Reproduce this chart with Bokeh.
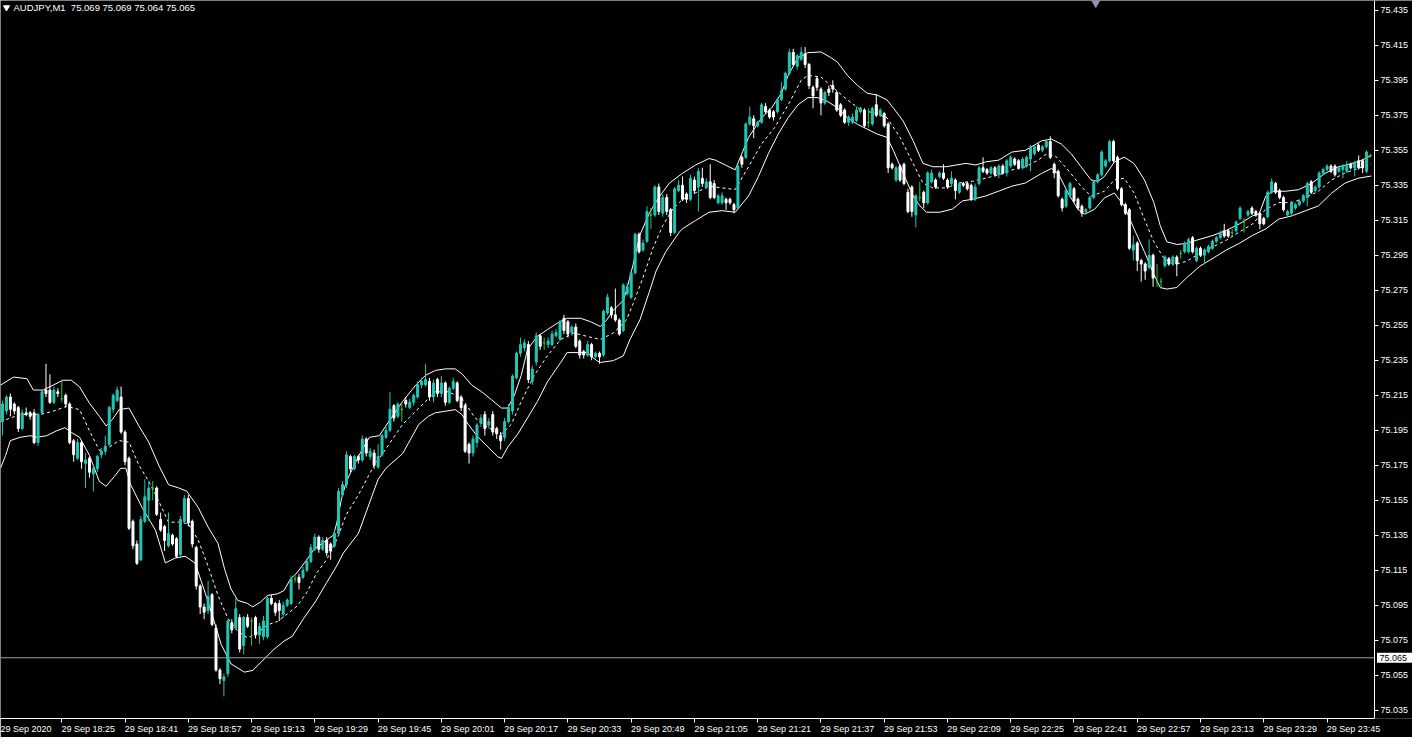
from bokeh.plotting import figure
from bokeh.models import (Range1d, FixedTicker, PrintfTickFormatter, Label, ColumnDataSource)
from bokeh.core.properties import value
from bokeh.embed import file_html
from bokeh.resources import INLINE

# ---------------- data (prices in points: 75.000 + v/1000) ----------------
symbol = "AUDJPY,M1"
header_ohlc = ["75.069", "75.069", "75.064", "75.065"]
bid_price = 75.065
first_bar_time = "18:10"

open_pts = [
    200, 206, 214, 210, 208, 196, 205, 205, 205, 188,
    205, 218, 218, 211, 217, 213, 215, 210, 189, 179,
    188, 176, 179, 170, 173, 181, 183, 187, 207, 212,
    214, 194, 179, 143, 130, 121, 143, 155, 162, 162,
    144, 140, 129, 135, 133, 124, 143, 156, 143, 128,
    106, 94, 92, 101, 82, 58, 52, 56, 85, 82,
    88, 72, 88, 86, 88, 78, 77, 77, 99, 96,
    96, 90, 95, 96, 110, 111, 111, 115, 120, 127,
    134, 127, 132, 130, 129, 136, 158, 164, 180, 173,
    180, 178, 190, 180, 182, 174, 181, 191, 195, 209,
    203, 207, 212, 208, 211, 214, 221, 221, 223, 214,
    224, 216, 222, 211, 219, 222, 214, 209, 187, 182,
    188, 199, 204, 198, 204, 196, 192, 191, 200, 206,
    225, 239, 242, 244, 223, 234, 249, 245, 244, 244,
    249, 247, 259, 257, 251, 254, 246, 240, 238, 244,
    237, 239, 238, 262, 265, 261, 258, 252, 273, 271,
    285, 307, 298, 303, 318, 318, 334, 319, 328, 321,
    308, 332, 335, 330, 327, 338, 334, 339, 334, 337,
    336, 325, 325, 327, 327, 324, 322, 351, 351, 370,
    373, 369, 371, 380, 378, 377, 377, 384, 390, 399,
    411, 403, 407, 410, 404, 391, 396, 390, 382, 390,
    392, 388, 381, 378, 371, 371, 372, 377, 378, 371,
    370, 381, 375, 376, 370, 347, 338, 346, 347, 331,
    334, 318, 328, 331, 325, 337, 338, 340, 342, 338,
    336, 338, 331, 336, 336, 335, 327, 336, 345, 344,
    342, 345, 341, 346, 342, 346, 350, 349, 345, 346,
    350, 353, 358, 355, 357, 360, 347, 343, 327, 323,
    329, 333, 327, 323, 320, 322, 328, 337, 341, 346,
    349, 360, 351, 333, 324, 321, 298, 302, 292, 290,
    288, 295, 280, 280, 289, 293, 290, 294, 296, 297,
    297, 305, 292, 299, 295, 297, 299, 303, 305, 309,
    309, 308, 309, 316, 314, 318, 322, 320, 319, 316,
    317, 331, 336, 332, 328, 318, 319, 322, 324, 326,
    328, 337, 332, 334, 342, 344, 346, 346, 343, 344,
    343, 347, 345, 349, 349, 343, 352,
]
high_pts = [
    212, 215, 216, 211, 209, 207, 208, 206, 207, 205,
    218, 233, 227, 220, 219, 224, 216, 211, 190, 190,
    189, 182, 180, 175, 181, 185, 192, 209, 216, 220,
    220, 195, 180, 144, 132, 146, 167, 166, 166, 163,
    148, 141, 148, 136, 134, 146, 158, 158, 144, 129,
    107, 96, 109, 102, 84, 59, 56, 87, 87, 99,
    90, 89, 90, 88, 89, 85, 89, 100, 101, 97,
    98, 97, 99, 112, 112, 113, 117, 122, 130, 136,
    135, 134, 134, 131, 138, 162, 166, 183, 181, 181,
    181, 192, 191, 185, 184, 187, 193, 197, 217, 210,
    211, 210, 214, 213, 216, 223, 225, 233, 225, 224,
    225, 226, 223, 220, 225, 223, 215, 210, 188, 192,
    199, 204, 206, 202, 206, 197, 194, 202, 210, 227,
    240, 248, 247, 246, 232, 251, 250, 248, 248, 252,
    253, 258, 261, 258, 255, 256, 247, 241, 246, 245,
    240, 240, 264, 273, 266, 276, 259, 279, 279, 286,
    308, 308, 304, 323, 322, 335, 336, 330, 330, 322,
    334, 338, 340, 331, 341, 340, 345, 345, 339, 347,
    338, 330, 331, 328, 328, 325, 347, 352, 371, 380,
    375, 372, 382, 382, 379, 378, 385, 394, 400, 413,
    413, 410, 414, 414, 405, 392, 397, 391, 389, 392,
    395, 389, 382, 379, 375, 376, 380, 380, 379, 379,
    380, 387, 379, 377, 371, 348, 346, 347, 348, 333,
    335, 330, 337, 332, 343, 344, 339, 343, 347, 339,
    343, 339, 337, 337, 337, 336, 336, 346, 351, 345,
    346, 346, 347, 347, 350, 352, 351, 350, 351, 352,
    358, 358, 359, 358, 361, 363, 348, 344, 328, 333,
    337, 334, 328, 324, 322, 329, 338, 342, 355, 350,
    361, 361, 352, 334, 325, 322, 306, 303, 293, 291,
    304, 296, 290, 282, 295, 294, 295, 295, 298, 303,
    305, 306, 300, 300, 299, 301, 304, 306, 309, 313,
    310, 310, 315, 323, 316, 321, 323, 321, 320, 317,
    332, 339, 337, 333, 329, 321, 326, 325, 327, 330,
    337, 338, 335, 343, 345, 347, 347, 347, 346, 347,
    349, 348, 349, 352, 350, 355, 353,
]
low_pts = [
    192, 204, 203, 204, 194, 195, 203, 201, 187, 186,
    204, 214, 210, 210, 214, 211, 208, 187, 177, 178,
    173, 162, 168, 160, 171, 179, 181, 186, 205, 211,
    193, 175, 138, 127, 118, 120, 142, 143, 155, 146,
    137, 126, 128, 129, 122, 122, 142, 140, 128, 104,
    90, 87, 90, 83, 57, 50, 43, 54, 79, 81,
    68, 67, 82, 72, 76, 73, 75, 76, 95, 89,
    86, 88, 94, 95, 108, 104, 110, 114, 119, 126,
    125, 126, 123, 121, 128, 135, 157, 162, 171, 172,
    176, 177, 180, 178, 173, 173, 180, 190, 194, 200,
    202, 200, 208, 207, 209, 213, 219, 220, 212, 211,
    214, 214, 209, 210, 218, 211, 206, 182, 176, 180,
    185, 197, 192, 196, 192, 190, 184, 189, 199, 204,
    224, 237, 240, 222, 221, 232, 241, 241, 242, 243,
    248, 246, 250, 248, 249, 242, 236, 236, 237, 235,
    236, 233, 237, 261, 259, 257, 249, 251, 272, 270,
    284, 296, 297, 302, 310, 317, 318, 317, 318, 306,
    307, 331, 326, 325, 326, 330, 320, 334, 333, 327,
    327, 324, 324, 321, 324, 319, 321, 345, 350, 369,
    362, 368, 370, 376, 373, 372, 376, 383, 389, 398,
    403, 401, 406, 402, 390, 379, 389, 375, 381, 386,
    388, 377, 374, 370, 369, 370, 371, 376, 368, 368,
    369, 374, 374, 368, 342, 344, 337, 337, 335, 319,
    317, 311, 326, 322, 324, 336, 333, 339, 338, 333,
    334, 327, 330, 334, 332, 326, 326, 335, 342, 341,
    341, 340, 339, 341, 340, 345, 346, 344, 344, 345,
    343, 352, 354, 354, 356, 350, 339, 328, 320, 322,
    328, 325, 321, 317, 319, 321, 327, 336, 340, 345,
    348, 348, 332, 323, 318, 298, 292, 286, 280, 281,
    287, 277, 277, 276, 288, 289, 289, 283, 293, 296,
    296, 296, 291, 294, 290, 296, 298, 302, 304, 305,
    305, 306, 308, 315, 308, 317, 318, 317, 310, 312,
    316, 330, 330, 327, 320, 317, 318, 321, 323, 325,
    323, 330, 331, 333, 341, 343, 342, 340, 342, 339,
    342, 344, 340, 344, 342, 342, 351,
]
close_pts = [
    210, 214, 207, 206, 196, 205, 204, 203, 188, 204,
    217, 216, 211, 218, 216, 213, 210, 188, 181, 188,
    177, 178, 171, 173, 180, 183, 186, 208, 215, 218,
    194, 177, 139, 129, 119, 144, 157, 162, 162, 147,
    138, 132, 136, 130, 123, 144, 156, 142, 130, 106,
    94, 91, 100, 84, 58, 53, 54, 86, 81, 93,
    70, 88, 83, 86, 78, 83, 86, 99, 96, 91,
    92, 95, 98, 110, 110, 108, 115, 120, 128, 134,
    127, 132, 125, 126, 136, 160, 164, 181, 173, 180,
    178, 190, 182, 183, 175, 180, 192, 195, 207, 202,
    210, 207, 210, 211, 215, 221, 223, 224, 214, 222,
    216, 222, 211, 219, 223, 212, 208, 183, 182, 190,
    198, 202, 196, 200, 194, 193, 189, 200, 208, 226,
    239, 244, 245, 224, 230, 249, 243, 245, 246, 250,
    251, 257, 252, 250, 254, 243, 238, 238, 244, 237,
    239, 237, 263, 271, 261, 258, 250, 278, 277, 285,
    307, 297, 302, 320, 318, 334, 320, 328, 320, 308,
    333, 335, 327, 327, 339, 332, 343, 336, 337, 328,
    328, 329, 329, 325, 325, 321, 346, 347, 370, 374,
    369, 371, 381, 377, 374, 374, 384, 389, 399, 411,
    404, 409, 411, 404, 392, 386, 391, 382, 388, 388,
    390, 378, 375, 371, 374, 374, 378, 379, 369, 371,
    379, 375, 378, 369, 345, 345, 345, 338, 336, 320,
    320, 329, 328, 325, 342, 342, 334, 342, 339, 334,
    339, 332, 336, 335, 333, 327, 334, 345, 343, 342,
    345, 341, 346, 342, 349, 351, 347, 345, 350, 351,
    357, 357, 355, 357, 360, 351, 342, 329, 322, 332,
    336, 326, 322, 319, 321, 328, 337, 341, 354, 349,
    360, 349, 333, 324, 319, 299, 301, 292, 290, 286,
    295, 282, 280, 280, 294, 290, 294, 290, 296, 302,
    304, 297, 299, 295, 298, 300, 303, 305, 308, 306,
    306, 308, 314, 322, 314, 320, 319, 318, 313, 313,
    331, 337, 331, 328, 321, 320, 325, 324, 326, 329,
    336, 331, 334, 342, 344, 346, 343, 341, 345, 346,
    346, 345, 348, 345, 345, 354, 352,
]

# Bollinger bands: (bar position, points)
upper_bars = [-0.5, 2.8, 6.2, 7.8, 10.3, 12.8, 15.3, 17.4, 19.5, 22, 24.5, 26.2, 27.8,
              29.5, 32, 34.5, 37, 39.5, 42, 44.5, 46.6, 49.5, 52, 54.5, 56.2, 57.8, 59.5,
              62, 63.3, 65.3, 67, 69.5, 71.2, 72.8, 74.5, 77, 78.7, 82, 83.7, 84.5, 85.8,
              87, 90, 92.8, 95.3, 97.8, 101.2, 104.5, 107, 109.5, 112, 114.5, 116.2,
              118.7, 121.2, 123.7, 126.2, 127.8, 129.5, 131.2, 132.8, 135.3, 137.8,
              140.3, 142.8, 146.2, 148.7, 151.2, 152.8, 154.5, 157, 157.8, 159.5, 161.2,
              163.7, 166.2, 168.7, 172, 175.3, 178.7, 180.3, 182.8, 185.3, 187, 188.7,
              192, 194.5, 197, 198.7, 201.2, 203.7, 207, 209.5, 211.2, 213.7, 216.2,
              218.7, 221.2, 223.7, 225.3, 227.8, 230.3, 232.8, 235.3, 238.7, 241.2,
              243.7, 246.2, 248.7, 252, 255.3, 258.7, 262.8, 265.3, 267.8, 270.3, 272.8,
              275.3, 277, 278.7, 281.2, 283.7, 286.2, 288.8, 291.2, 292.8, 294.5, 297,
              299.5, 302, 306.2, 309.5, 312.8, 316.2, 317.8, 319.5, 321.2, 324.5, 327.8,
              331.2, 334.5, 337.8, 341.2, 343.7, 346.2]
upper_pts = [220.8, 225.4, 224.5, 218, 218, 220.8, 223.6, 223.6, 219.8, 210.5, 203, 197.5,
             201.2, 206.8, 207.7, 197.5, 188.2, 175.1, 163.9, 162.1, 160.2, 150.9, 139.7,
             130.4, 115.5, 104.3, 97.8, 96, 94.1, 96.9, 100.6, 101.5, 103.4, 109.9, 113.6,
             121.1, 126.7, 132.3, 135.1, 141.6, 156.5, 165.8, 180, 191, 191.9, 200.3,
             211.5, 220.8, 226.4, 229.2, 230.1, 230.1, 227.3, 220.8, 217, 212.4, 207.7,
             207.7, 215.2, 226.4, 241.3, 248.7, 252.5, 256.2, 259, 259, 257.1, 254.3,
             258, 263.6, 269.2, 274.8, 289.7, 306.5, 319.5, 328.8, 336.3, 341.9, 346.6,
             350.3, 349.4, 346.6, 343.8, 353.1, 362.4, 373.6, 379.2, 387.6, 397.8, 408,
             410.8, 411.2, 408, 405.3, 397.8, 392.2, 387.6, 386.6, 383.8, 379.2, 371.7,
             360.5, 347.5, 345.6, 345.6, 346.6, 347.5, 346.6, 348.4, 349.4, 354, 355,
             360.4, 361.4, 358.6, 353, 345.5, 338.1, 337.2, 340, 348.3, 351.1, 347.4,
             338.1, 325.1, 312, 302.7, 301.2, 301.8, 303.6, 306.4, 309.2, 312.9, 317.6,
             318.5, 328.8, 331.6, 331.6, 332.5, 336.2, 341.8, 345.5, 347.4, 349.3, 352]

middle_bars = [-0.5, 4.5, 9.5, 12.8, 16.2, 19.5, 22, 24.5, 27, 29.5, 32, 34.5, 37, 39.5,
               42, 44.5, 47, 49.5, 52, 54.5, 57, 59.5, 62, 64.5, 67, 69.5, 72, 74.5, 77,
               79.5, 82, 84.5, 87, 90, 94, 97, 101.2, 105.3, 109.5, 112.8, 116.2, 119.5,
               122.8, 126.2, 128.7, 131.2, 134.5, 137.8, 141.2, 144.5, 147.8, 151.2,
               154.5, 157.8, 159.5, 162, 164.5, 167, 169.5, 172, 175.3, 178.7, 182,
               185.3, 188.7, 192, 195.3, 198.7, 202, 203.7, 207, 210.3, 213.7, 217,
               220.3, 223.7, 227, 230.3, 232.8, 235.3, 238.7, 242, 245.3, 248.7, 252,
               255.3, 258.7, 262, 263.7, 266.2, 269.5, 272.8, 275.3, 278.7, 281.2,
               283.7, 286.2, 288.8, 291.2, 293.7, 296.2, 299.5, 302.8, 306.2, 309.5,
               312.8, 316.2, 319.5, 322.8, 326.2, 329.5, 332.8, 336.2, 339.5, 342.8, 346.2]
middle_pts = [200, 204, 204, 205.9, 208.7, 206.8, 194.7, 183.5, 185.4, 189.1, 188.2, 175.1,
              165.8, 154.6, 142.5, 142.5, 141.6, 132.3, 117.4, 100.6, 87.6, 80.1, 76.4,
              79.2, 83.8, 85.7, 90, 94.5, 102.5, 113.6, 121.1, 132.3, 147, 158, 175,
              184.5, 198.4, 207.7, 217, 217, 213.3, 202.1, 196.6, 192.8, 198.4, 211.5,
              226.4, 237.5, 246.9, 250.6, 248.7, 246.9, 250.6, 258, 267.4, 282.3, 299,
              312, 321.4, 327, 330.7, 334.5, 333.5, 332.6, 345.6, 358.7, 368, 381, 395,
              397.8, 396.9, 390.4, 383.8, 378.2, 376.4, 373.6, 362.4, 347.5, 336.3,
              333.5, 333.5, 336.3, 337.3, 339.1, 341, 343.8, 345.6, 349.4, 352.5, 352,
              343.7, 334.4, 328.8, 331.6, 338.1, 339, 330.6, 315.7, 302.7, 293.4, 289.7,
              291.5, 296.2, 299.9, 303.6, 308.3, 313, 321.3, 325.1, 325.1, 327.9, 331.6,
              338.1, 342, 344.6, 347]

lower_bars = [-0.5, 0.8, 2, 4.5, 7, 8.7, 11.2, 13.7, 15.8, 17.4, 19.5, 22, 24.5, 26.2,
              28.3, 29.9, 31.2, 32.4, 35.3, 38.7, 41.2, 43.7, 46.2, 48.7, 51.2, 53.3,
              55.3, 57.8, 61.2, 63.3, 66.2, 68.7, 71.2, 73.3, 76.2, 79.1, 82, 84.5, 86.2,
              90, 95, 97, 101.2, 105.3, 107.8, 109.5, 112, 114.5, 116.2, 117.8, 120.3,
              122.8, 125.3, 126.2, 127.8, 130.3, 132.8, 135.3, 137.8, 141.2, 142.8,
              144.5, 147.8, 150.3, 151.2, 154.5, 157, 158.7, 161.2, 163.7, 165.3, 167.8,
              171.2, 172, 175.3, 178.7, 182, 185.3, 188.7, 191.2, 193.7, 196.2, 198.7,
              201.2, 203.7, 206.2, 208.7, 211.2, 213.7, 216.2, 218.7, 221.2, 223.7,
              225.3, 227.8, 230.3, 232, 233.7, 237, 240.3, 242.8, 245.3, 248.7, 252,
              255.3, 258.7, 262.8, 265.3, 267, 269.5, 272, 273.7, 276.2, 278.7, 281.2,
              283.7, 286.2, 288.8, 291.2, 292.8, 294.5, 297, 299.5, 302.8, 306.2, 309.5,
              312.8, 316.2, 319.5, 322.8, 326.2, 329.5, 332.8, 336.2, 339.5, 342.8, 346.2]
lower_pts = [173.3, 180.7, 189.1, 191, 191.9, 191, 191.9, 194.7, 196.5, 193.8, 191, 180.7,
             165.8, 163, 168.6, 173.3, 173.3, 164, 150.9, 137.9, 119.2, 122, 123, 119.2,
             102.5, 87.6, 72.7, 61.5, 56.8, 57.8, 64.3, 69.9, 74.5, 77.3, 87.6, 96.9, 108,
             117.4, 124.8, 136, 167, 173.3, 181.7, 198.4, 203.1, 205, 205.9, 206.8, 204,
             198.4, 191, 185.4, 179.8, 178.9, 185.4, 192.8, 202.1, 211.5, 222.6, 233.8,
             239.4, 239.4, 239.4, 234.8, 233.8, 234.8, 237.5, 246.9, 258, 274.8, 286,
             297.2, 308.3, 310.2, 314.9, 319.6, 320.5, 319.6, 328.9, 340.1, 353.1, 364.3,
             373.6, 381, 385.1, 385.1, 382.9, 379.2, 373.6, 369.9, 367.1, 364.3, 362.4,
             355, 341.9, 328.9, 323.3, 319.6, 319.6, 321.4, 326.1, 327, 328.9, 331.7,
             334.5, 336.3, 341.8, 344.6, 341.8, 330.6, 321.3, 318.5, 321.3, 327.8, 330.6,
             323.2, 310.1, 297.1, 284.1, 276.6, 275.7, 276.6, 282.2, 288.7, 293.4, 298,
             301.8, 306.4, 310.1, 315.7, 317.6, 320.4, 323.2, 330.6, 336.2, 339, 340.3]

price_ticks = [75.035, 75.055, 75.075, 75.095, 75.115, 75.135, 75.155, 75.175,
               75.195, 75.215, 75.235, 75.255, 75.275, 75.295, 75.315, 75.335,
               75.355, 75.375, 75.395, 75.415, 75.435]
first_axis_label = "29 Sep 2020"
time_labels = ["29 Sep 18:25", "29 Sep 18:41", "29 Sep 18:57", "29 Sep 19:13",
               "29 Sep 19:29", "29 Sep 19:45", "29 Sep 20:01", "29 Sep 20:17",
               "29 Sep 20:33", "29 Sep 20:49", "29 Sep 21:05", "29 Sep 21:21",
               "29 Sep 21:37", "29 Sep 21:53", "29 Sep 22:09", "29 Sep 22:25",
               "29 Sep 22:41", "29 Sep 22:57", "29 Sep 23:13", "29 Sep 23:29",
               "29 Sep 23:45"]

# ---------------- styling ----------------
BULL = "#22c7b5"
BEAR = "#ffffff"
DOJI = "#33cc33"
FONT = "Liberation Sans"
W, H = 1412, 737
AXIS_PX = 1374          # pixel column of the price scale
B_BORDER = 19


def to_price(v):
    return 75.0 + v / 1000.0


def minutes(txt):
    hh, mm = txt.split()[-1].split(":")
    return int(hh) * 60 + int(mm)


n = min(len(open_pts), len(high_pts), len(low_pts), len(close_pts))
xs = list(range(n))
o = [to_price(v) for v in open_pts[:n]]
h = [to_price(v) for v in high_pts[:n]]
l = [to_price(v) for v in low_pts[:n]]
c = [to_price(v) for v in close_pts[:n]]
colors = [BULL if cc > oo else (BEAR if cc < oo else DOJI) for oo, cc in zip(o, c)]
src = ColumnDataSource(dict(x=xs, o=o, h=h, l=l, c=c, color=colors,
                            top=[max(a, b) for a, b in zip(o, c)],
                            bottom=[min(a, b) for a, b in zip(o, c)]))

t0 = minutes("x " + first_bar_time)
tick_bars = [minutes(t) - t0 for t in time_labels]

x0 = -0.5
axis_x = n + 0.0                       # price scale sits just right of the last bar
px_bar = AXIS_PX / (axis_x - x0)
x_end = x0 + W / px_bar
y0, y1 = 75.0303, 75.4406
px_price = (H - B_BORDER) / (y1 - y0)

p = figure(width=W, height=H, x_range=Range1d(x0, x_end), y_range=Range1d(y0, y1),
           output_backend="svg", toolbar_location=None, y_axis_location="right",
           min_border_left=0, min_border_top=0, min_border_right=0,
           min_border_bottom=B_BORDER, background_fill_color="black",
           border_fill_color="black", outline_line_color=None)
p.grid.visible = False

# bands
p.line(upper_bars, [to_price(v) for v in upper_pts], color="white", line_width=1)
p.line(lower_bars, [to_price(v) for v in lower_pts], color="white", line_width=1)
p.line(middle_bars, [to_price(v) for v in middle_pts], color="white",
       line_width=1, line_dash="3 3")

# bid line (drawn under the candles, up to the price scale)
p.segment(x0=[x0], y0=[bid_price], x1=[axis_x], y1=[bid_price],
          line_color="#9aa3ad", line_width=1)

# candles
p.segment(x0="x", y0="l", x1="x", y1="h", color="color", line_width=1, source=src)
p.vbar(x="x", width=0.5, top="top", bottom="bottom", fill_color="color",
       line_color="color", line_width=1, source=src)

# bid price tag on the price scale
p.rect(x=[axis_x + 20 / px_bar], y=[bid_price], width=35, height=10,
       width_units="screen", height_units="screen", fill_color="white", line_color=None)
p.text(x=[axis_x + 5 / px_bar], y=[bid_price], text=[f"{bid_price:.3f}"],
       text_color="black", text_font=value(FONT), text_font_size="9px",
       text_baseline="middle", text_align="left")

# header
p.scatter(x=[x0 + 6 / px_bar], y=[y1 - 7 / px_price], marker="inverted_triangle",
          size=6, color="white")
p.add_layout(Label(x=x0 + 13 / px_bar, y=y1 - 7 / px_price,
                   text=symbol + "\u00a0 " + " ".join(header_ohlc),
                   text_color="white", text_font=FONT, text_font_size="9.5px",
                   text_baseline="middle", text_align="left"))
# chart-shift marker
p.scatter(x=[x0 + (1108 / 1390) * (axis_x - x0)], y=[y1], marker="inverted_triangle",
          size=12, color="#8a97b0")

# right price scale, fixed at the end of the bars
ya = p.yaxis[0]
ya.fixed_location = axis_x
ya.ticker = FixedTicker(ticks=price_ticks, minor_ticks=[])
ya.formatter = PrintfTickFormatter(format="%.3f")
ya.axis_line_color = "white"
ya.major_tick_line_color = "white"
ya.major_tick_out = 4
ya.major_tick_in = 0
ya.minor_tick_line_color = None
ya.major_label_standoff = 2
ya.major_label_text_color = "white"
ya.major_label_text_font = FONT
ya.major_label_text_font_size = "9px"

# bottom time axis: tick marks as minor ticks, labels left-aligned after each tick
label_shift = 26.5 / px_bar
label_pos = [round(x0 + 25.5 / px_bar, 3)] + [round(t + label_shift, 3) for t in tick_bars]
label_txt = [first_axis_label] + time_labels
xa = p.xaxis[0]
xa.ticker = FixedTicker(ticks=label_pos, minor_ticks=tick_bars)
xa.major_label_overrides = {pos: txt for pos, txt in zip(label_pos, label_txt)}
xa.bounds = (x0, axis_x)
xa.axis_line_color = "white"
xa.major_tick_line_color = None
xa.major_tick_out = 0
xa.major_tick_in = 0
xa.minor_tick_line_color = "white"
xa.minor_tick_out = 4
xa.minor_tick_in = 0
xa.major_label_standoff = 1
xa.major_label_text_color = "white"
xa.major_label_text_font = FONT
xa.major_label_text_font_size = "9px"

open("out.html", "w").write(file_html(p, INLINE))
